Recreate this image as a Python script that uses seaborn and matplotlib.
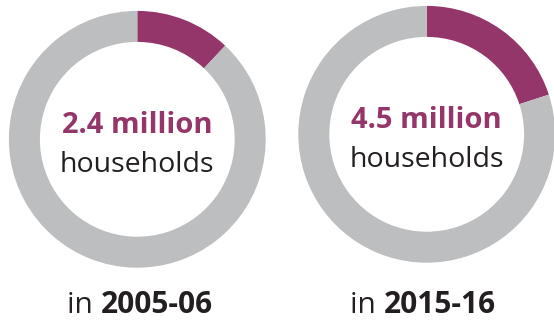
import matplotlib
matplotlib.use("Agg")
import matplotlib.pyplot as plt
import seaborn as sns

# Private rented households versus all households (millions)
years = ["2005-06", "2015-16"]
rented_m = [2.4, 4.5]
total_m = [20.0, 22.5]
value_labels = ["2.4 million", "4.5 million"]

sns.set_theme(style="white")
plt.rcParams["font.family"] = ["Open Sans", "DejaVu Sans"]

highlight = "#943669"
rest = "#BCBEC0"
ink = "#231F20"

W, H = 554, 320
fig = plt.figure(figsize=(W / 100, H / 100), dpi=100)
fig.patch.set_facecolor("white")

# ring geometry in pixels: centre x, centre y (from top), outer radius
centres = [(137.3, 139.3), (426.7, 134.3)]
radius = 128.4
ring = 31.0 / radius

axes = []
for i, (cx, cy) in enumerate(centres):
    ax = fig.add_axes([(cx - radius) / W, (H - cy - radius) / H,
                       2 * radius / W, 2 * radius / H])
    ax.pie([rented_m[i], total_m[i] - rented_m[i]],
           colors=[highlight, rest], startangle=90, counterclock=False,
           radius=1.0, wedgeprops=dict(width=ring, linewidth=0))
    ax.set_xlim(-1, 1)
    ax.set_ylim(-1, 1)
    ax.set_aspect("auto")
    ax.axis("off")
    for w in ax.patches:
        w.set_clip_on(False)

    ax.text(0, 0.047, value_labels[i], ha="center", va="baseline",
            fontsize=21, fontweight="bold", color=highlight)
    ax.text(0, -0.255, "households", ha="center", va="baseline",
            fontsize=20.5, color=ink)
    axes.append(ax)

# year captions below each ring
starts = [67, 350]
for i, x0 in enumerate(starts):
    t1 = fig.text(x0 / W, (H - 313) / H, "in ", ha="left", va="baseline",
                  fontsize=21.5, color=ink)
    axes[i].annotate(years[i], xy=(1, 0), xycoords=t1, ha="left", va="bottom",
                     fontsize=21.5, fontweight="bold", color=ink,
                     annotation_clip=False)

fig.savefig("out.png", dpi=100, facecolor="white")
